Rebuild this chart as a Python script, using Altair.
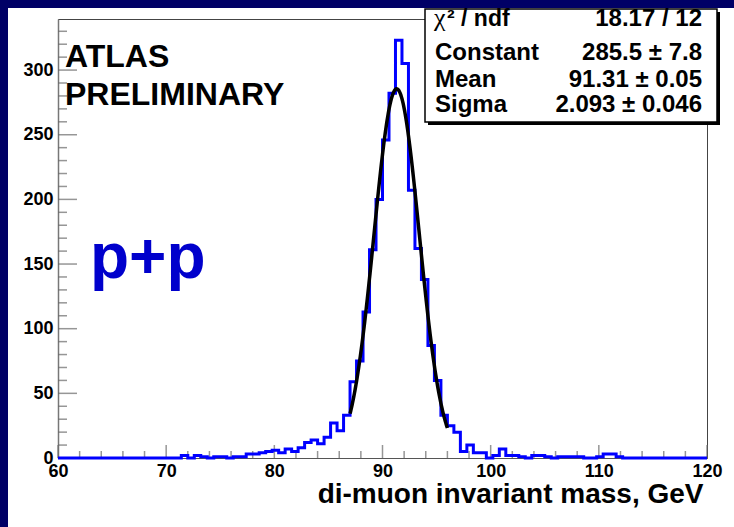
import altair as alt
import numpy as np
import pandas as pd

# ---------------- data ----------------
bin_low = 60.0
bin_width = 0.6
counts = [0, 0, 0, 0, 0, 0, 0, 0, 0, 0,
          0, 0, 0, 0, 0, 0, 0, 0, 0, 2,
          0, 2, 1, 0, 1, 1, 0, 1, 1, 3,
          3, 4, 5, 6, 4, 7, 5, 8, 12, 14,
          11, 16, 27, 21, 33, 59, 75, 113, 161, 200,
          246, 282, 323, 305, 207, 162, 138, 87, 60, 33,
          25, 20, 5, 10, 4, 4, 0, 2, 7, 2,
          2, 1, 0, 2, 2, 1, 0, 1, 1, 1,
          1, 0, 0, 1, 3, 3, 1, 0, 0, 0,
          0, 0, 0, 0, 0, 0, 0, 0, 0, 0]

fit_const = 285.5
fit_mean = 91.31
fit_sigma = 2.093
fit_lo, fit_hi = 87.0, 96.0

x_major = [60, 70, 80, 90, 100, 110, 120]
x_minor = [v for v in range(62, 120, 2) if v % 10 != 0]
y_major = [0, 50, 100, 150, 200, 250, 300]
y_minor = [v for v in range(10, 340, 10) if v % 50 != 0]

stats_labels = ["Constant", "Mean", "Sigma"]
stats_values = ["18.17 / 12", "285.5 \u00b1 7.8", "91.31 \u00b1 0.05", "2.093 \u00b1 0.046"]

# ---------------- layout ----------------
W, H = 649, 439
PAD_L, PAD_T = 58, 19
PAD_R, PAD_B = 734 - PAD_L - W, 527 - PAD_T - H
FONT = "Liberation Sans"
NAVY = "#000066"
TICK = "#6a6a6a"

xs = alt.Scale(domain=[60, 120], nice=False, zero=False)
ys = alt.Scale(domain=[0, 339.5], nice=False, zero=True)

edges = [bin_low + bin_width * i for i in range(len(counts) + 1)]
hist_df = pd.DataFrame({"mass": edges, "entries": counts + [counts[-1]]})

hist = alt.Chart(hist_df).mark_line(
    interpolate="step-after", color="#0000ff", strokeWidth=3
).encode(
    x=alt.X("mass:Q", scale=xs, axis=alt.Axis(
        values=x_major, format="d", ticks=False, tickSize=0, grid=False,
        labelFont=FONT, labelFontSize=18, labelFontWeight="bold", labelColor="black",
        labelPadding=4, labelFlush=False, labelOverlap=False,
        domainColor="#555555", domainWidth=1,
        title="di-muon invariant mass, GeV", titleFont=FONT, titleFontSize=28,
        titleFontWeight="bold", titleColor="black", titleAlign="right",
        titleBaseline="alphabetic", titleX=645, titleY=44)),
    y=alt.Y("entries:Q", scale=ys, axis=alt.Axis(
        values=y_major, format="d", ticks=False, tickSize=0, grid=False,
        labelFont=FONT, labelFontSize=18, labelFontWeight="bold", labelColor="black",
        labelPadding=5, labelFlush=False, labelOverlap=False,
        domainColor="#777777", domainWidth=1.5, title=None)),
)

fx = np.linspace(fit_lo, fit_hi, 181)
fit_df = pd.DataFrame({"mass": fx,
                       "entries": fit_const * np.exp(-0.5 * ((fx - fit_mean) / fit_sigma) ** 2)})
fit = alt.Chart(fit_df).mark_line(color="black", strokeWidth=3.5).encode(
    x=alt.X("mass:Q", scale=xs), y=alt.Y("entries:Q", scale=ys))


def xticks(vals, length):
    return alt.Chart(pd.DataFrame({"v": vals})).mark_tick(
        orient="vertical", size=length, thickness=1.5, color=TICK
    ).encode(x=alt.X("v:Q", scale=xs), y=alt.value(H - length / 2))


def yticks(vals, length):
    return alt.Chart(pd.DataFrame({"v": vals})).mark_tick(
        orient="horizontal", size=length, thickness=1.5, color=TICK
    ).encode(y=alt.Y("v:Q", scale=ys), x=alt.value(length / 2))


def txt(s, x, y, size, color="black", weight="bold", font=FONT, align="left"):
    return alt.Chart(pd.DataFrame({"t": [s]})).mark_text(
        align=align, baseline="alphabetic", font=font, fontSize=size,
        fontWeight=weight, color=color
    ).encode(x=alt.value(x), y=alt.value(y), text="t:N")


def box(x1, x2, y1, y2, fill, stroke=None, sw=0):
    kw = dict(fill=fill, strokeWidth=sw)
    if stroke:
        kw["stroke"] = stroke
    return alt.Chart(pd.DataFrame({"a": [0]})).mark_rect(**kw).encode(
        x=alt.value(x1), x2=alt.value(x2), y=alt.value(y1), y2=alt.value(y2))


layers = [
    # navy slide background bands (top and left)
    box(-PAD_L, W + PAD_R, -PAD_T, -PAD_T + 8, NAVY),
    box(-PAD_L, -PAD_L + 8, -PAD_T, H + PAD_B, NAVY),
    xticks(x_major, 13), xticks(x_minor, 7),
    yticks(y_major, 19), yticks(y_minor, 9),
    hist, fit,
    txt("ATLAS", 7, 48, 32),
    txt("PRELIMINARY", 7, 86, 32),
    txt("p+p", 32, 259, 64, color="#0000cc"),
    # stats box
    box(370, 662, -7, 106, "black"),
    box(367, 659, -10, 103, "white", stroke="black", sw=1.5),
    txt("\u03c7", 376, 7, 26, weight="normal", font="Liberation Serif"),
    txt("\u00b2 / ndf", 389, 7, 23),
]
row_y = [41, 68, 93]
for lab, yy in zip(stats_labels, row_y):
    layers.append(txt(lab, 377, yy, 24))
for val, yy in zip(stats_values, [7] + row_y):
    layers.append(txt(val, 644, yy, 24, align="right"))

chart = alt.layer(*layers).properties(
    width=W, height=H, background="white",
    autosize=alt.AutoSizeParams(type="none"),
    padding={"left": PAD_L, "top": PAD_T, "right": PAD_R, "bottom": PAD_B},
).configure_view(stroke="#444444", strokeWidth=1, fill="white")

chart.save("out.html", embed_options={"renderer": "svg", "actions": False})
